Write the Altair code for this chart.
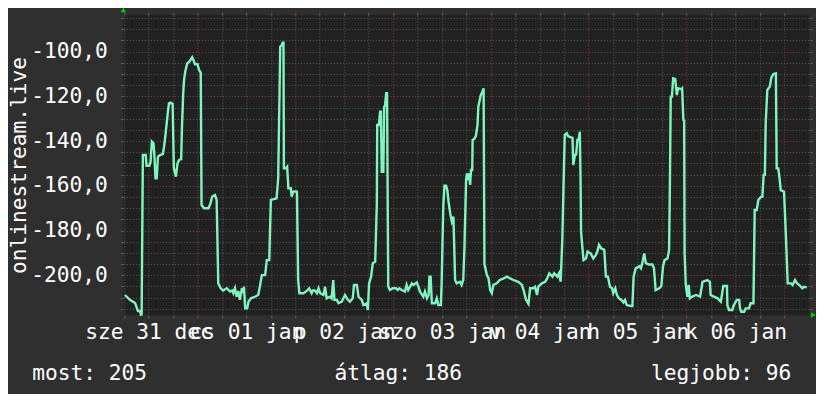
import altair as alt
import pandas as pd

# ---- data (hours since left edge of window, value) ----
HOURS = [0.4, 1.6, 2.9, 3.6, 4.1, 4.3, 4.5, 4.8, 5.5, 5.7, 6.4, 6.7, 7.0, 7.4, 7.6, 7.9, 8.2, 8.5, 9.0, 9.7,
         10.0, 10.3, 10.6, 10.9, 11.2, 11.6, 12.1, 12.4, 12.9, 13.3, 13.7, 14.2, 14.4, 14.7, 14.9, 15.2, 15.7, 16.2, 16.9, 17.2,
         17.6, 18.2, 18.6, 19.0, 19.2, 19.8, 20.9, 21.4, 21.8, 22.5, 22.9, 23.3, 23.9, 24.5, 25.4, 26.2, 26.7, 27.0, 27.4, 27.8,
         28.2, 28.6, 29.1, 29.4, 29.6, 29.9, 30.4, 30.7, 31.3, 32.3, 33.1, 33.5, 34.0, 34.8, 35.2, 35.8, 36.2, 37.6, 38.0, 38.5,
         38.9, 39.1, 39.3, 39.4, 39.9, 40.2, 40.5, 41.1, 41.3, 41.7, 42.3, 42.6, 42.9, 43.2, 44.2, 45.0, 45.6, 46.2, 46.5, 47.0,
         47.5, 47.9, 48.3, 49.1, 49.5, 49.9, 50.7, 51.1, 51.5, 51.8, 52.4, 52.8, 53.6, 54.0, 54.4, 55.0, 55.6, 56.3, 56.6, 57.3,
         57.7, 58.5, 58.9, 59.7, 60.0, 60.3, 60.8, 61.2, 61.8, 62.2, 62.3, 62.7, 63.0, 63.2, 63.4, 63.8, 64.0, 64.2, 64.5, 64.7,
         65.0, 65.4, 66.1, 66.9, 67.3, 67.7, 68.3, 69.1, 69.5, 69.9, 70.8, 71.2, 72.0, 72.4, 72.8, 73.6, 74.0, 74.5, 74.9, 75.1,
         75.4, 75.7, 76.5, 76.9, 77.3, 77.9, 78.1, 78.5, 78.8, 79.2, 79.5, 79.8, 80.2, 80.6, 81.0, 81.4, 81.8, 82.6, 83.0, 83.4,
         83.7, 84.1, 84.3, 84.5, 84.8, 85.1, 85.3, 85.6, 85.7, 86.1, 86.5, 86.9, 87.1, 87.7, 88.1, 88.4, 88.6, 89.2, 89.6, 90.0,
         90.4, 90.8, 91.6, 92.4, 93.3, 94.1, 94.9, 95.7, 96.9, 97.8, 98.3, 98.8, 99.4, 99.8, 100.6, 101.0, 101.5, 101.8, 102.7, 103.5,
         104.0, 104.5, 105.3, 105.7, 106.5, 106.9, 107.3, 107.7, 108.0, 108.3, 108.8, 109.1, 109.8, 110.2, 110.4, 110.8, 111.1, 111.4, 111.7, 112.0,
         112.2, 112.3, 112.9, 113.5, 113.9, 114.7, 115.3, 115.9, 116.3, 116.7, 117.2, 118.0, 118.4, 118.9, 119.4, 119.9, 120.2, 120.7, 121.1, 121.6,
         122.2, 122.7, 123.1, 123.5, 124.5, 124.9, 125.2, 125.7, 126.6, 127.0, 127.4, 127.8, 128.2, 129.0, 129.8, 130.2, 130.6, 131.5, 132.0, 132.4,
         132.8, 133.5, 133.9, 134.1, 134.3, 134.6, 134.9, 135.4, 135.8, 136.1, 136.8, 137.1, 137.4, 137.6, 137.7, 138.0, 138.4, 138.7, 139.0, 139.6,
         140.5, 141.5, 142.1, 143.3, 143.9, 144.1, 144.9, 145.8, 146.6, 147.2, 148.1, 148.2, 148.6, 149.4, 149.8, 150.5, 151.1, 151.3, 151.6, 152.3,
         152.7, 153.5, 153.9, 154.6, 154.9, 155.4, 155.8, 156.4, 156.8, 157.1, 157.4, 157.6, 158.0, 158.6, 159.0, 159.5, 160.1, 160.3, 160.7, 161.0,
         161.3, 162.1, 162.6, 163.0, 163.8, 164.2, 164.8, 165.3, 165.8, 166.6, 167.0, 167.7]

VALUES = [-208.8, -211.0, -212.4, -216.0, -216.0, -217.6, -217.5, -146.2, -146.2, -151.0, -151.0, -149.2, -140.2, -141.0, -145.4, -156.6, -156.6, -147.0, -146.2, -145.8,
          -142.5, -138.0, -132.8, -127.6, -123.1, -122.8, -123.4, -152.2, -155.9, -149.9, -148.4, -148.1, -133.5, -118.6, -112.7, -108.9, -105.2, -104.5, -102.5, -103.7,
          -105.6, -105.6, -108.2, -109.4, -168.6, -170.0, -170.0, -167.8, -164.8, -164.1, -166.3, -203.6, -205.8, -206.8, -205.8, -207.3, -206.8, -208.0, -205.8, -209.6,
          -207.0, -211.0, -205.8, -208.0, -205.1, -214.8, -214.8, -211.8, -210.3, -209.6, -208.8, -205.1, -199.9, -199.9, -193.2, -193.2, -166.3, -165.6, -156.6, -97.8,
          -97.0, -96.0, -96.0, -152.2, -152.2, -151.5, -161.1, -161.1, -164.8, -162.6, -162.5, -162.6, -202.1, -208.0, -208.0, -207.0, -205.8, -208.0, -206.8, -206.8,
          -208.0, -205.8, -208.0, -208.8, -205.1, -210.3, -209.6, -210.3, -202.1, -211.0, -211.0, -212.5, -211.8, -210.3, -208.8, -210.7, -211.8, -210.3, -204.3, -204.3,
          -209.6, -211.0, -213.3, -212.5, -215.5, -203.6, -200.6, -194.6, -193.9, -167.8, -132.8, -132.8, -126.8, -126.8, -153.7, -153.7, -124.6, -124.2, -118.6, -118.6,
          -205.0, -206.6, -205.8, -205.8, -206.6, -205.8, -206.6, -207.3, -204.3, -206.6, -203.6, -204.3, -203.2, -205.1, -207.3, -209.6, -207.3, -210.3, -208.8, -200.6,
          -200.6, -212.5, -212.5, -210.3, -213.3, -213.3, -203.6, -169.3, -159.9, -159.9, -161.9, -167.1, -172.3, -176.0, -173.8, -202.1, -203.6, -202.9, -204.3, -202.1,
          -187.2, -157.4, -154.4, -157.4, -154.4, -159.6, -152.9, -152.9, -139.5, -139.0, -137.7, -132.8, -124.6, -119.4, -117.9, -116.4, -195.0, -199.9, -201.3, -206.6,
          -208.0, -204.3, -203.6, -202.1, -201.4, -200.6, -201.4, -202.1, -202.9, -204.3, -207.3, -211.0, -212.8, -205.8, -205.8, -205.1, -208.8, -205.1, -203.6, -202.9,
          -201.4, -199.1, -200.6, -199.1, -200.6, -199.1, -202.9, -184.2, -160.0, -137.3, -136.5, -137.7, -138.3, -138.5, -150.7, -146.2, -146.0, -139.5, -139.5, -135.8,
          -160.0, -180.5, -193.2, -192.5, -189.4, -190.3, -192.5, -191.0, -189.4, -186.4, -187.9, -188.6, -200.6, -200.6, -205.1, -205.8, -208.0, -205.8, -208.8, -210.3,
          -211.0, -212.1, -211.0, -213.3, -213.7, -213.7, -200.6, -196.9, -196.0, -196.9, -193.9, -190.2, -194.6, -195.2, -195.2, -196.9, -206.6, -205.8, -204.8, -196.2,
          -193.2, -192.5, -188.7, -160.0, -120.1, -120.1, -111.9, -112.2, -119.4, -116.4, -116.8, -116.4, -130.5, -130.8, -190.0, -204.3, -209.6, -204.3, -210.3, -209.5,
          -208.8, -209.5, -202.9, -202.1, -202.9, -208.8, -209.5, -210.3, -211.8, -204.8, -204.8, -213.3, -215.5, -215.5, -213.3, -211.0, -211.0, -214.8, -216.3, -216.3,
          -214.8, -214.8, -212.5, -212.5, -170.8, -170.8, -166.3, -165.0, -164.8, -155.1, -155.1, -132.0, -117.1, -115.7, -111.5, -110.0, -109.7, -152.2, -152.2, -156.6,
          -161.9, -162.6, -184.2, -203.6, -203.6, -204.3, -202.1, -203.6, -204.3, -205.8, -205.1, -205.4]

X_DOMAIN = [0, 168.3]
Y_DOMAIN = [-217.75, -83.6]
GRID_HOURS = [0.2, 6.2, 12.2, 18.2, 24.2, 30.2, 36.2, 42.2, 48.2, 54.2, 60.2, 66.2, 72.2, 78.2,
              84.2, 90.2, 96.2, 102.2, 108.2, 114.2, 120.2, 126.2, 132.2, 138.2, 144.2, 150.2, 156.2, 162.2]
MIDNIGHT_HOURS = [18.2, 42.2, 66.2, 90.2, 114.2, 138.2, 162.2]
LABEL_HOURS = [6.2, 30.2, 54.2, 78.2, 102.2, 126.2, 150.2]
DAY_LABELS = ["sze 31 dec", "cs 01 jan", "p 02 jan", "szo 03 jan", "v 04 jan", "h 05 jan", "k 06 jan"]
Y_TICKS = [-215, -210, -205, -200, -195, -190, -185, -180, -175, -170, -165, -160, -155, -150,
           -145, -140, -135, -130, -125, -120, -115, -110, -105, -100, -95, -90, -85]
Y_MAJOR_STEP = 20
Y_TITLE = "onlinestream.live"
SUMMARY = ["most: 205", "átlag: 186", "legjobb: 96"]

# ---- style ----
FONT = "DejaVu Sans Mono"
FS = 21.2
BG = "#2f2f2f"
PLOT_BG = "#212121"
LINE = "#80f5c0"
MINOR = "#5e5e5e"
MAJOR = "#8a4444"
ARROW = "#00d000"
TEXT = "#ffffff"
DASH = [1, 2]

df = pd.DataFrame({"hour": HOURS, "value": VALUES})

mid_list = ",".join(str(h) for h in MIDNIGHT_HOURS)
x_major_test = f"indexof([{mid_list}], datum.value) >= 0"
lab_list = ",".join(str(h) for h in LABEL_HOURS)
lab_texts = ",".join("'" + t + "'" for t in DAY_LABELS)
x_label_expr = (f"indexof([{lab_list}], datum.value) >= 0 ? "
                f"[{lab_texts}][indexof([{lab_list}], datum.value)] : ''")
y_major_test = f"datum.value % {Y_MAJOR_STEP} == 0"
y_label_expr = f"{y_major_test} ? '-' + replace(format(abs(datum.value), '.1f'), '.', ',') : ''"

x_col = {"condition": {"test": x_major_test, "value": MAJOR}, "value": MINOR}
y_col = {"condition": {"test": y_major_test, "value": MAJOR}, "value": MINOR}

line = alt.Chart(df).mark_line(color=LINE, strokeWidth=2.4).encode(
    x=alt.X("hour:Q",
            scale=alt.Scale(domain=X_DOMAIN, nice=False, zero=False),
            axis=alt.Axis(values=GRID_HOURS, labelExpr=x_label_expr, grid=True,
                          gridColor=x_col, gridDash=DASH, gridWidth=1,
                          ticks=True, tickSize=3, tickColor=x_col, domain=False,
                          labelFont=FONT, labelFontSize=FS, labelColor=TEXT,
                          labelPadding=20, labelBaseline="alphabetic",
                          labelOverlap=False, labelFlush=False, labelBound=False,
                          title=None)),
    y=alt.Y("value:Q",
            scale=alt.Scale(domain=Y_DOMAIN, nice=False, zero=False),
            axis=alt.Axis(values=Y_TICKS, labelExpr=y_label_expr, grid=True,
                          gridColor=y_col, gridDash=DASH, gridWidth=1,
                          ticks=True, tickSize=3, tickColor=y_col, domain=False,
                          labelFont=FONT, labelFontSize=FS, labelColor=TEXT,
                          labelPadding=13, labelOverlap=False, labelFlush=False,
                          labelBound=False,
                          title=Y_TITLE, titleFont=FONT, titleFontSize=FS,
                          titleFontWeight="normal", titleColor=TEXT,
                          titleAngle=270, titleAlign="center", titleBaseline="alphabetic",
                          titleX=-98, titleY=150)),
)

up_df = pd.DataFrame({"hour": [X_DOMAIN[0]], "value": [Y_DOMAIN[1]]})
up = alt.Chart(up_df).mark_point(shape="triangle-up", filled=True, color=ARROW,
                                 size=30, opacity=1, yOffset=-5).encode(
    x=alt.X("hour:Q", axis=alt.Axis(orient="top", values=GRID_HOURS, labels=False, grid=False,
                                    domain=False, ticks=True, tickSize=3, tickColor=x_col, title=None)),
    y=alt.Y("value:Q", axis=alt.Axis(orient="right", values=Y_TICKS, labels=False, grid=False,
                                     domain=False, ticks=True, tickSize=3, tickColor=y_col, title=None)),
)

right_df = pd.DataFrame({"hour": [X_DOMAIN[1]], "value": [Y_DOMAIN[0]]})
right = alt.Chart(right_df).mark_point(shape="triangle-right", filled=True, color=ARROW,
                                       size=30, opacity=1, xOffset=4).encode(
    x=alt.X("hour:Q", axis=None),
    y=alt.Y("value:Q", axis=None),
)

def summary(i, xpx, align):
    d = pd.DataFrame({"t": [SUMMARY[i]]})
    return alt.Chart(d).mark_text(font=FONT, fontSize=FS, color=TEXT, align=align,
                                  baseline="alphabetic").encode(
        text="t:N", x=alt.value(xpx), y=alt.value(365))

s0 = summary(0, -91, "left")
s1 = summary(1, 275, "center")
s2 = summary(2, 668, "right")

chart = alt.layer(line, up, right, s0, s1, s2).resolve_axis(
    x="independent", y="independent"
).properties(
    width=686, height=300,
    padding={"left": 115.3, "top": 7, "right": 6.7, "bottom": 79},
    autosize=alt.AutoSizeParams(type="none"),
    background=BG,
).configure_view(fill=PLOT_BG, stroke=None)

chart.save("out.html", embed_options={"renderer": "svg", "actions": False})
